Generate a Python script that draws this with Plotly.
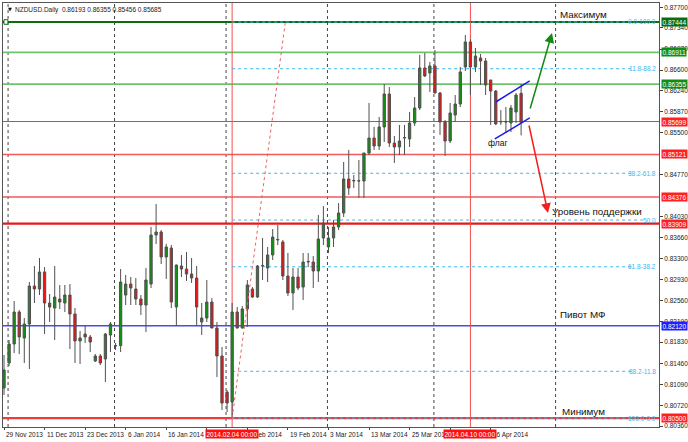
import plotly.graph_objects as go

# ---------------- data ----------------
opens = [0.81026, 0.81465, 0.81798, 0.82359, 0.81903, 0.82149, 0.82815, 0.82762, 0.83061, 0.82517,
         0.82429, 0.82587, 0.82517, 0.82657, 0.82324, 0.81851, 0.81973, 0.81921, 0.81500, 0.81588,
         0.81535, 0.81956, 0.81763, 0.81770, 0.82657, 0.82850, 0.82762, 0.82587, 0.82482, 0.82850,
         0.83709, 0.83762, 0.83324, 0.83481, 0.82447, 0.83166, 0.83113, 0.83025, 0.82955, 0.82184,
         0.82254, 0.82534, 0.82079, 0.81588, 0.80956, 0.80781, 0.82359, 0.82079, 0.82412, 0.82762,
         0.82622, 0.83166, 0.83131, 0.83359, 0.83622, 0.83587, 0.82990, 0.82692, 0.82973, 0.82797,
         0.83236, 0.83236, 0.83078, 0.83657, 0.83499, 0.83657, 0.83850, 0.84095, 0.84691, 0.84656,
         0.84656, 0.84656, 0.85147, 0.85410, 0.85270, 0.85603, 0.86182, 0.85322, 0.85252, 0.85410,
         0.85393, 0.85673, 0.85936, 0.86638, 0.86550, 0.86673, 0.86199, 0.85691, 0.85358, 0.85813,
         0.86006, 0.86655, 0.87094, 0.86655, 0.86813, 0.86760, 0.86427, 0.86234, 0.85691, 0.85700,
         0.85673, 0.85866, 0.86193]
highs = [0.81605, 0.81868, 0.82552, 0.82394, 0.82254, 0.82885, 0.83166, 0.83306, 0.83148, 0.82675,
         0.83166, 0.82833, 0.82833, 0.82850, 0.82429, 0.82026, 0.82114, 0.81956, 0.81623, 0.81623,
         0.81991, 0.82184, 0.81816, 0.83113, 0.83008, 0.82973, 0.82955, 0.82657, 0.83131, 0.83850,
         0.84253, 0.83797, 0.83552, 0.83534, 0.83190, 0.83359, 0.83411, 0.83306, 0.83166, 0.82517,
         0.82920, 0.82605, 0.82184, 0.81745, 0.80991, 0.82517, 0.82447, 0.82464, 0.82920, 0.82797,
         0.83183, 0.83657, 0.83499, 0.83814, 0.83885, 0.83622, 0.83394, 0.83131, 0.83131, 0.83394,
         0.83394, 0.83341, 0.84060, 0.84218, 0.83850, 0.83972, 0.84270, 0.84989, 0.85200, 0.84761,
         0.85024, 0.85150, 0.86024, 0.85603, 0.85778, 0.86357, 0.86304, 0.85445, 0.85638, 0.85638,
         0.85866, 0.86129, 0.86866, 0.86901, 0.86743, 0.86953, 0.86217, 0.85726, 0.86024, 0.86164,
         0.86655, 0.87216, 0.87140, 0.86988, 0.86883, 0.86813, 0.86430, 0.86252, 0.85900, 0.85954,
         0.85989, 0.86199, 0.86355]
lows = [0.80904, 0.81412, 0.81640, 0.81623, 0.81465, 0.81360, 0.82517, 0.82657, 0.81973, 0.82184,
        0.81868, 0.82412, 0.82359, 0.81710, 0.81465, 0.81447, 0.81816, 0.81658, 0.81482, 0.81430,
        0.81132, 0.81658, 0.81693, 0.81658, 0.82482, 0.82482, 0.82482, 0.82307, 0.82008, 0.82780,
        0.83552, 0.83201, 0.82938, 0.82429, 0.82114, 0.82973, 0.82903, 0.82868, 0.82114, 0.81956,
        0.82184, 0.82075, 0.81219, 0.80641, 0.80606, 0.80520, 0.82070, 0.82070, 0.82096, 0.82605,
        0.82605, 0.82920, 0.82885, 0.83271, 0.83534, 0.82920, 0.82640, 0.82394, 0.82745, 0.82570,
        0.83148, 0.82780, 0.82885, 0.83534, 0.83394, 0.83499, 0.83797, 0.84025, 0.84411, 0.84533,
        0.84358, 0.84358, 0.85112, 0.85200, 0.85200, 0.85340, 0.85252, 0.84972, 0.85112, 0.85112,
        0.85252, 0.85621, 0.85901, 0.86480, 0.86217, 0.86195, 0.85463, 0.85095, 0.85322, 0.85691,
        0.85954, 0.86585, 0.86164, 0.86568, 0.86340, 0.86164, 0.85638, 0.85638, 0.85640, 0.85515,
        0.85515, 0.85673, 0.85456]
closes = [0.81342, 0.81798, 0.82359, 0.81921, 0.82149, 0.82815, 0.82762, 0.83061, 0.82517, 0.82447,
          0.82622, 0.82534, 0.82657, 0.82324, 0.81851, 0.81903, 0.81921, 0.81833, 0.81588, 0.81465,
          0.81973, 0.82149, 0.81770, 0.82885, 0.82850, 0.82780, 0.82587, 0.82482, 0.82920, 0.83709,
          0.83762, 0.83324, 0.83499, 0.82534, 0.83183, 0.83113, 0.83025, 0.82955, 0.82447, 0.82254,
          0.82534, 0.82079, 0.81588, 0.80763, 0.80763, 0.82359, 0.82079, 0.82412, 0.82833, 0.82622,
          0.83166, 0.83175, 0.83359, 0.83674, 0.83630, 0.82990, 0.82692, 0.82973, 0.82780, 0.83236,
          0.83245, 0.83078, 0.83639, 0.83920, 0.83657, 0.83850, 0.84095, 0.84691, 0.84533, 0.84664,
          0.84660, 0.85147, 0.85410, 0.85270, 0.85603, 0.86182, 0.85322, 0.85252, 0.85358, 0.85418,
          0.85673, 0.85936, 0.86638, 0.86497, 0.86673, 0.86199, 0.85691, 0.85358, 0.85849, 0.86006,
          0.86568, 0.87094, 0.86655, 0.86848, 0.86760, 0.86340, 0.86234, 0.85656, 0.85700, 0.85691,
          0.85936, 0.86164, 0.85685]
bar_index = list(range(len(opens)))

date_tick_bars = [0, 8, 16, 24, 32, 40, 48, 56, 64, 72, 80, 88, 96]
date_tick_labels = ["29 Nov 2013", "11 Dec 2013", "23 Dec 2013", "6 Jan 2014", "16 Jan 2014",
                    "28 Jan 2014", "7 Feb 2014", "19 Feb 2014", "3 Mar 2014", "13 Mar 2014",
                    "25 Mar 2014", "4 Apr 2014", "16 Apr 2014"]
month_start_bars = [1, 22, 44, 64, 85, 109]

price_ticks = [0.87700, 0.87340, 0.86970, 0.86600, 0.86240, 0.85870, 0.85500, 0.84770,
               0.84030, 0.83660, 0.83300, 0.82930, 0.82560, 0.82190, 0.81830, 0.81460,
               0.81090, 0.80720, 0.80360]

level_prices = [0.87444, 0.86911, 0.86355, 0.85699, 0.85121, 0.84376, 0.83909, 0.82120, 0.80500]
level_kinds = ["max", "res", "res", "cur", "sup", "sup", "sup2", "pivot", "min"]

fib_low, fib_high = 0.80500, 0.87444
fib_ratios = [0.0, 11.8, 38.2, 50.0, 61.8, 88.2, 100.0]
fib_labels = ["0.0-100.0", "11.8-88.2", "38.2-61.8", "50.0", "61.8-38.2", "88.2-11.8", "100.0-0.0"]
fib_start_bar, fib_end_bar = 45, 55.5

vline_bars = [45, 92]
vline_labels = ["2014.02.04 00:00", "2014.04.10 00:00"]

flag_upper = ([97.0, 103.7], [0.86041, 0.86410])
flag_lower = ([96.8, 103.7], [0.85393, 0.85761])
up_arrow = ((103.7, 0.85901), (108.1, 0.87251))
down_arrow = ((103.5, 0.85656), (107.3, 0.84095))

title_text = "NZDUSD.Daily  0.86193 0.86355 0.85456 0.85685"

# ---------------- styles ----------------
kind_style = {
    "max": ("#0b6e0b", 1.8, "#0b6e0b"),
    "res": ("#6dc46d", 1.8, "#128c12"),
    "cur": ("#d04848", 1.0, "#ff2020"),
    "sup": ("#f25a5a", 1.5, "#ff2020"),
    "sup2": ("#e81818", 2.2, "#ff2020"),
    "pivot": ("#4a4af0", 1.5, "#2020ff"),
    "min": ("#f03a3a", 2.2, "#ff2020"),
}
FIB_COLOR = "#3cb8f0"
AX_FONT = dict(family="Liberation Sans, Arial, sans-serif", size=6.5, color="#222")
TXT_FONT = dict(family="Liberation Sans, Arial, sans-serif", size=9.8, color="#111")

fig = go.Figure()
fig.add_trace(go.Candlestick(
    x=bar_index, open=opens, high=highs, low=lows, close=closes,
    increasing=dict(fillcolor="#138f13", line=dict(color="#505050", width=1)),
    decreasing=dict(fillcolor="#ec1414", line=dict(color="#505050", width=1)),
    whiskerwidth=0, hoverinfo="skip", showlegend=False,
))

shapes = []
annotations = []

# date labels (left-aligned at their tick, like the terminal draws them)
for b, lab in zip(date_tick_bars, date_tick_labels):
    annotations.append(dict(xref="x", yref="paper", x=b, y=0, xanchor="left", yanchor="top",
                            xshift=0, yshift=-2, text=lab, showarrow=False, font=AX_FONT))

# month separators
for b in month_start_bars:
    shapes.append(dict(type="line", xref="x", yref="paper", x0=b - 0.2, x1=b - 0.2, y0=0, y1=1,
                       line=dict(color="#444", width=1, dash="dot"), layer="below"))

# horizontal levels with right-axis labels
for p, k in zip(level_prices, level_kinds):
    col, w, box = kind_style[k]
    shapes.append(dict(type="line", xref="paper", yref="y", x0=0, x1=1, y0=p, y1=p,
                       line=dict(color=col, width=w), layer="below"))
    annotations.append(dict(xref="paper", yref="y", x=1, y=p, xanchor="left", yanchor="middle",
                            xshift=2, text=f"{p:.5f}", showarrow=False, bgcolor=box,
                            font=dict(family=AX_FONT["family"], size=6.5, color="white"),
                            borderpad=0.5))

# fibonacci levels
rng = fib_high - fib_low
for r, lab in zip(fib_ratios, fib_labels):
    p = fib_high - r / 100.0 * rng
    end = 126.6 if lab == "50.0" else 123.9
    shapes.append(dict(type="line", xref="x", yref="y", x0=fib_start_bar, x1=end, y0=p, y1=p,
                       line=dict(color=FIB_COLOR, width=1, dash="dot"), layer="below"))
    annotations.append(dict(xref="paper", yref="y", x=1, y=p, xanchor="right", yanchor="middle",
                            xshift=-1, text=lab, showarrow=False,
                            font=dict(family=AX_FONT["family"], size=6.5, color=FIB_COLOR)))
shapes.append(dict(type="line", xref="x", yref="y", x0=fib_start_bar, x1=fib_end_bar,
                   y0=fib_low, y1=fib_high, line=dict(color="#f06060", width=1, dash="dot")))

# vertical red lines with date boxes
for b, lab in zip(vline_bars, vline_labels):
    shapes.append(dict(type="line", xref="x", yref="paper", x0=b, x1=b, y0=0, y1=1,
                       line=dict(color="#f05050", width=1), layer="below"))
    annotations.append(dict(xref="x", yref="paper", x=b, y=0, xanchor="center", yanchor="top",
                            yshift=-2, text=lab, showarrow=False, bgcolor="#ff1010",
                            font=dict(family=AX_FONT["family"], size=6.5, color="white"),
                            borderpad=0.5))

# flag channel
for xs, ys in (flag_upper, flag_lower):
    shapes.append(dict(type="line", xref="x", yref="y", x0=xs[0], x1=xs[1], y0=ys[0], y1=ys[1],
                       line=dict(color="#1a1af0", width=1.5)))

# arrows
for (start, end), col in ((up_arrow, "#138a13"), (down_arrow, "#f02020")):
    annotations.append(dict(xref="x", yref="y", axref="x", ayref="y", x=end[0], y=end[1],
                            ax=start[0], ay=start[1], showarrow=True, arrowhead=2,
                            arrowsize=1.3, arrowwidth=1.5, arrowcolor=col, text=""))

# text labels
for txt, x, y in (("Максимум", 109.3, 0.87567), ("Уровень поддержки", 107.7, 0.84130),
                  ("Пивот МФ", 109.3, 0.82307), ("Минимум", 109.7, 0.80623)):
    annotations.append(dict(xref="x", yref="y", x=x, y=y, xanchor="left", yanchor="middle",
                            text=txt, showarrow=False, font=TXT_FONT))
annotations.append(dict(xref="x", yref="y", x=97.4, y=0.85322, xanchor="center", yanchor="middle",
                        text="флаг", showarrow=False,
                        font=dict(family=TXT_FONT["family"], size=8.5, color="#111")))

# chart title
annotations.append(dict(xref="paper", yref="paper", x=0, y=1, xanchor="left", yanchor="top",
                        xshift=3, yshift=-1, text="▼", showarrow=False,
                        font=dict(family="DejaVu Sans", size=5, color="#111")))
annotations.append(dict(xref="paper", yref="paper", x=0, y=1, xanchor="left", yanchor="top",
                        xshift=10, yshift=-1, text=title_text, showarrow=False,
                        font=dict(family=AX_FONT["family"], size=6.5, color="#222")))

# selection marker on max line
shapes.append(dict(type="rect", xref="paper", yref="y", x0=0.0015, x1=0.0075,
                   y0=0.87444 - 0.0004, y1=0.87444 + 0.0004,
                   line=dict(color="#0b6e0b", width=1), fillcolor="white"))

fig.update_layout(
    width=688, height=442,
    margin=dict(l=3, r=29, t=3, b=15),
    paper_bgcolor="white", plot_bgcolor="white",
    shapes=shapes, annotations=annotations,
    showlegend=False, boxgap=0.35,
    xaxis=dict(range=[-0.2, 129.2], rangeslider=dict(visible=False), showgrid=False,
               zeroline=False, tickvals=date_tick_bars, showticklabels=False,
               ticks="outside", ticklen=2, tickcolor="#444",
               showline=True, linecolor="#555", linewidth=1, mirror=True,
               automargin=False, fixedrange=True),
    yaxis=dict(range=[0.80343, 0.87777], side="right", showgrid=False, zeroline=False,
               tickvals=price_ticks, ticktext=[f"{v:.5f}" for v in price_ticks],
               ticks="outside", ticklen=3, tickcolor="#444", tickfont=AX_FONT,
               showline=True, linecolor="#555", linewidth=1, mirror=True, automargin=False),
)

fig.write_html("out.html", config={"displayModeBar": False},
               post_script="document.body.style.margin='0';document.body.style.overflow='hidden';")
